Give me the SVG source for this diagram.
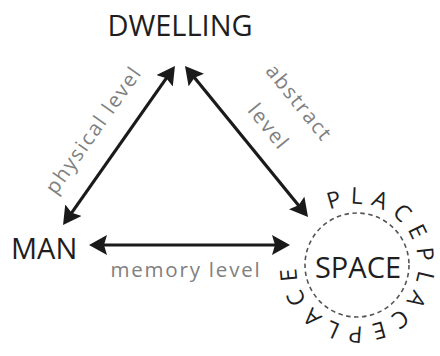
<svg xmlns="http://www.w3.org/2000/svg" width="440" height="356" viewBox="0 0 440 356">
  <style>
    .title { font-family: "Open Sans", "Noto Sans", sans-serif; font-size: 29px; fill: #1e1e1e; }
    .label { font-family: "Open Sans", "Noto Sans", sans-serif; font-size: 20.5px; fill: #808080; letter-spacing: 1.8px; }
    .ring  { font-family: "Open Sans", "Noto Sans", sans-serif; font-size: 23px; fill: #1e1e1e; letter-spacing: 7.8px; }
    .edge  { stroke: #1a1a1a; stroke-width: 3.2; fill: none; marker-start: url(#head); marker-end: url(#head); }
    .halo  { fill: none; stroke: #555; stroke-width: 1.6; stroke-dasharray: 4.5 3.5; }
  </style>
  <defs>
    <marker id="head" viewBox="0 0 18 20" refX="8" refY="10" markerWidth="18" markerHeight="20"
            markerUnits="userSpaceOnUse" orient="auto-start-reverse">
      <path d="M0,0 L18,10 L0,20 L3,10 Z" fill="#1a1a1a"/>
    </marker>
    <!-- clockwise circle for the PLACE ring, starting at upper left -->
    <path id="ringPath" d="M329.8,210.4 A61,61 0 1 1 384.2,319.6 A61,61 0 1 1 329.8,210.4"/>
  </defs>

  <g id="connectors">
    <line class="edge" x1="68.8" y1="216.8" x2="169.2" y2="74.2"/>
    <line class="edge" x1="191.3" y1="73.8" x2="301.7" y2="209.2"/>
    <line class="edge" x1="99" y1="245" x2="280" y2="245"/>
    <text class="label" text-anchor="middle" transform="translate(99.3,133.9) rotate(-54.7)">physical level</text>
    <text class="label" text-anchor="middle" transform="translate(293.8,107.2) rotate(51)">abstract</text>
    <text class="label" text-anchor="middle" transform="translate(263.2,131.3) rotate(51)">level</text>
    <text class="label" text-anchor="middle" x="186" y="277">memory level</text>
  </g>

  <g id="dwelling">
    <text class="title" text-anchor="middle" x="180" y="36">DWELLING</text>
  </g>

  <g id="man">
    <text class="title" x="11" y="259">MAN</text>
  </g>

  <g id="space">
    <circle class="halo" cx="357" cy="265" r="52"/>
    <text class="title" text-anchor="middle" x="358" y="278">SPACE</text>
    <text class="ring"><textPath href="#ringPath">PLACEPLACEPLACE</textPath></text>
  </g>
</svg>
